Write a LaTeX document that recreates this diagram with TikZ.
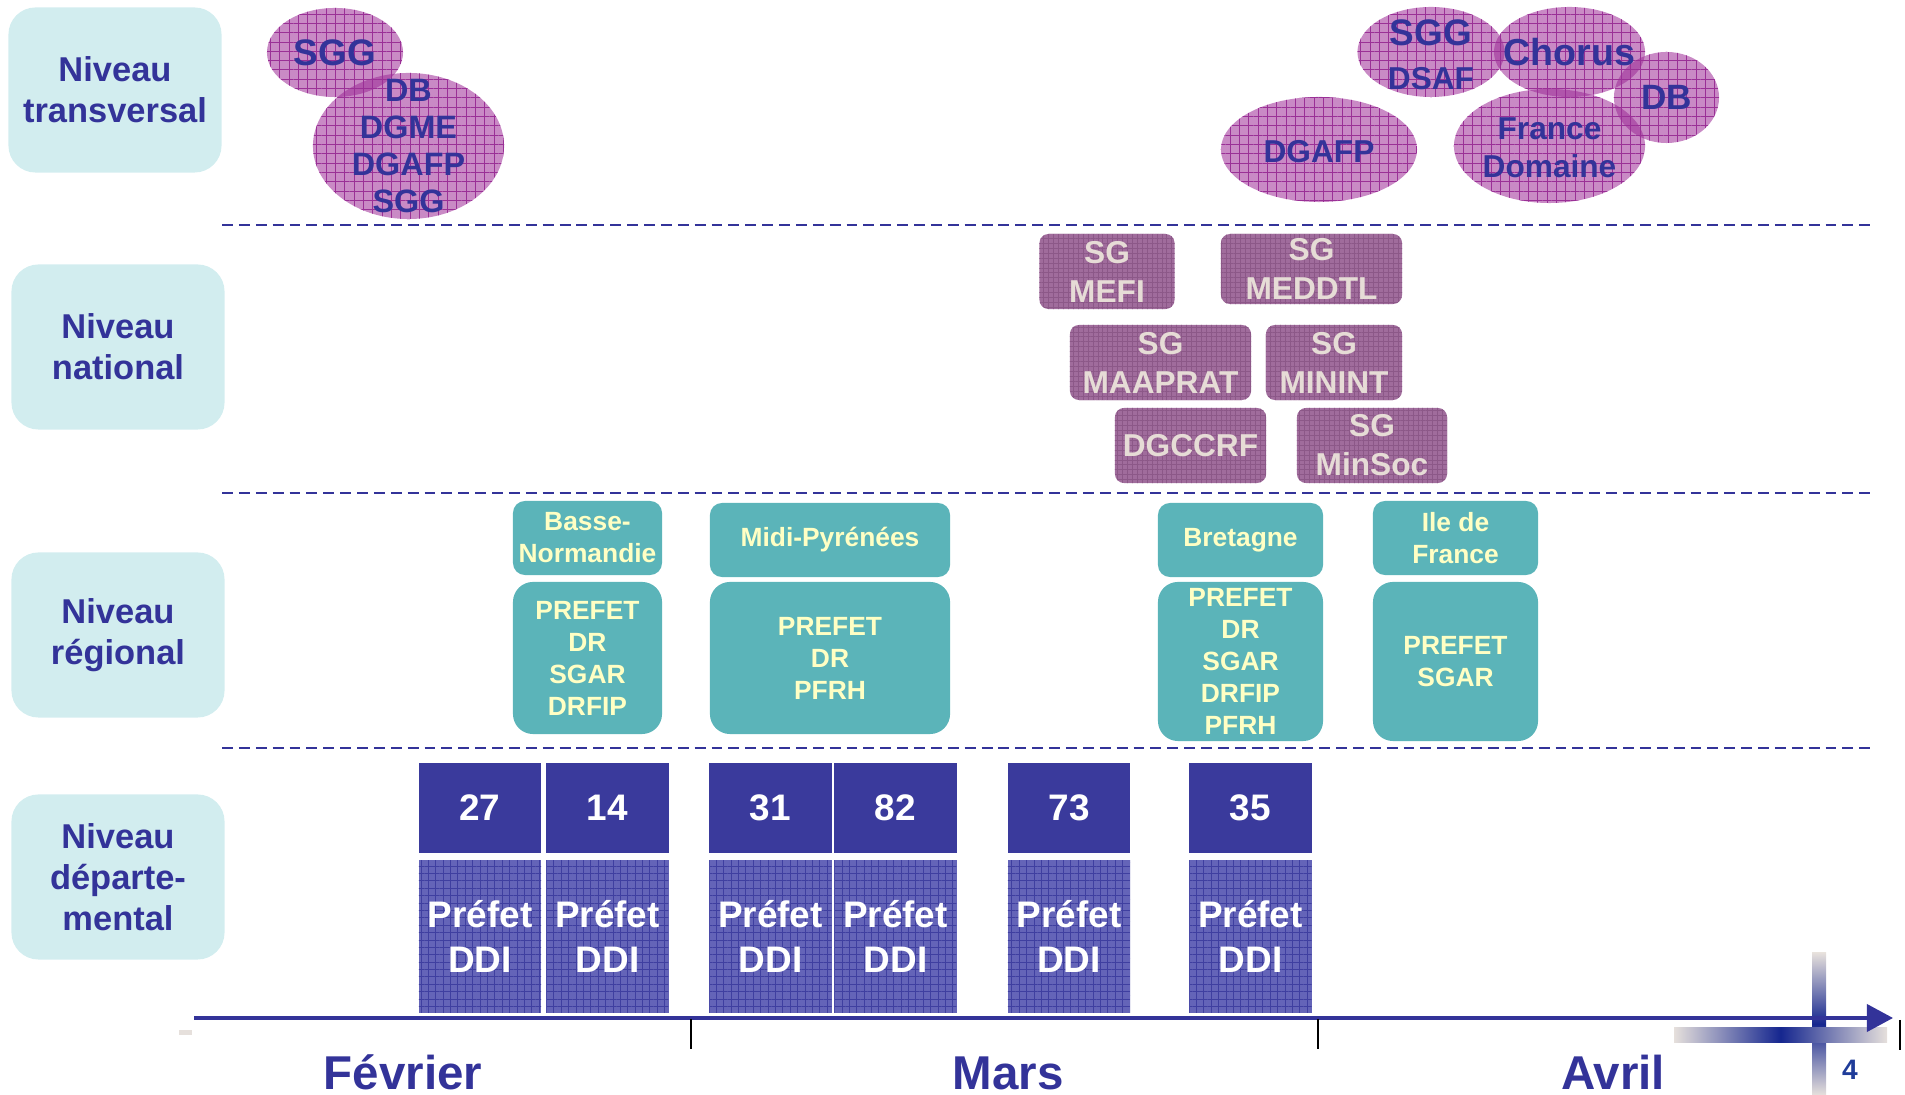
\documentclass[tikz,border=0pt]{standalone}
\usepackage{fontspec}
\setmainfont{Liberation Sans}
\usepackage{tikz}
\usetikzlibrary{shapes.geometric,arrows.meta,patterns.meta}
\definecolor{navy}{HTML}{333399}
\definecolor{paleteal}{HTML}{D2EDEF}
\definecolor{orchid}{HTML}{9C2A96}
\definecolor{orchidline}{HTML}{9A3096}
\definecolor{mauve}{HTML}{A06C9C}
\definecolor{mauveline}{HTML}{8C5888}
\definecolor{mauvetext}{HTML}{E6DCD6}
\definecolor{regteal}{HTML}{5BB4B9}
\definecolor{cream}{HTML}{FFFFC4}
\definecolor{deptblue}{HTML}{3A3A9C}
\definecolor{ddiblue}{HTML}{6464B8}
\definecolor{ddiline}{HTML}{3F3FA0}
\definecolor{bargrey}{HTML}{E6E0DC}
\definecolor{bardark}{HTML}{15268F}
\definecolor{pagenum}{HTML}{1F3C99}
\tikzset{
  niveau/.style={fill=paleteal, rounded corners=0.27cm, minimum width=2.13cm, minimum height=1.65cm, inner sep=0pt, align=center, text=navy, font=\bfseries\fontsize{9.8}{11.7}\selectfont},
  sep/.style={draw=navy, line width=0.55pt, dash pattern=on 3.1pt off 1.7pt},
  bulle/.style={ellipse, inner sep=0pt, preaction={fill=orchid, fill opacity=0.55}, pattern={Hatch[distance=2.65pt, line width=0.22pt]}, pattern color=orchidline},
  bulletxt/.style={text=navy, align=center, inner sep=0pt},
  ministere/.style={preaction={fill=mauve}, pattern={Hatch[distance=1.4pt, line width=0.2pt]}, pattern color=mauveline, rounded corners=0.09cm, inner sep=0pt, align=center, text=mauvetext, font=\bfseries\fontsize{9}{11.1}\selectfont},
  regtete/.style={fill=regteal, rounded corners=0.12cm, minimum height=0.74cm, inner sep=0pt, align=center, text=cream, font=\bfseries\fontsize{7.5}{9.1}\selectfont},
  regcorps/.style={regtete, rounded corners=0.2cm},
  numdep/.style={fill=deptblue, minimum width=1.22cm, minimum height=0.9cm, inner sep=0pt, text=white, font=\bfseries\fontsize{10.5}{13}\selectfont},
  prefet/.style={preaction={fill=ddiblue}, pattern={Hatch[distance=2.1pt, line width=0.22pt]}, pattern color=ddiline, minimum width=1.22cm, minimum height=1.52cm, inner sep=0pt, align=center, text=white, font=\bfseries\fontsize{10.5}{13}\selectfont},
  axe/.style={draw=navy, line width=1pt, -{Triangle[length=7.4pt,width=7.7pt]}},
  repere/.style={draw=black, line width=0.4pt},
  mois/.style={anchor=base, inner sep=0pt, text=navy, font=\bfseries\fontsize{13.5}{16}\selectfont}
}
\begin{document}
\begin{tikzpicture}[x=0.01cm, y=-0.01cm]
  \useasboundingbox (0,0) rectangle (1905,1095);

  \node[niveau] (nivTrans) at (115,90) {Niveau\\transversal};
  \node[niveau] (nivNat) at (118,347) {Niveau\\national};
  \node[niveau] (nivReg) at (118,635) {Niveau\\régional};
  \node[niveau] (nivDep) at (118,877) {Niveau\\départe-\\mental};

  \draw[sep] (222,225) -- (1871,225);
  \draw[sep] (222,493) -- (1871,493);
  \draw[sep] (222,748) -- (1871,748);

  \node[bulle, minimum width=1.36cm, minimum height=0.89cm] (sggL) at (335,52.5) {};
  \node[bulle, minimum width=1.91cm, minimum height=1.46cm] (dbL) at (408.5,146) {};
  \node[bulle, minimum width=1.96cm, minimum height=1.05cm] (dgafpR) at (1319,149.5) {};
  \node[bulle, minimum width=1.47cm, minimum height=0.9cm] (sggR) at (1431,52) {};
  \node[bulle, minimum width=1.51cm, minimum height=0.9cm] (chorus) at (1569.5,52) {};
  \node[bulle, minimum width=1.05cm, minimum height=0.91cm] (dbR) at (1666.5,97.5) {};
  \node[bulle, minimum width=1.91cm, minimum height=1.14cm] (france) at (1549.5,146) {};

  \node[bulletxt, font=\bfseries\fontsize{10.5}{12}\selectfont] (sggLtxt) at (sggL) {SGG};
  \node[bulletxt, font=\bfseries\fontsize{9.2}{10.5}\selectfont] (dbLtxt) at (dbL) {DB\\DGME\\DGAFP\\SGG};
  \node[bulletxt, font=\bfseries\fontsize{9}{11}\selectfont] (dgafpRtxt) at (1319,152) {DGAFP};
  \node[bulletxt, font=\bfseries\fontsize{9}{12.5}\selectfont] (sggRtxt) at (1431,55) {{\fontsize{10.5}{12.5}\selectfont SGG}\\DSAF};
  \node[bulletxt, font=\bfseries\fontsize{10.7}{12}\selectfont] (chorustxt) at (chorus) {Chorus};
  \node[bulletxt, font=\bfseries\fontsize{10}{12}\selectfont] (dbRtxt) at (dbR) {DB};
  \node[bulletxt, font=\bfseries\fontsize{9}{10.8}\selectfont] (francetxt) at (1549.5,148) {France\\Domaine};

  \node[ministere, minimum width=1.35cm, minimum height=0.75cm] (mefi) at (1107,271.5) {SG\\MEFI};
  \node[ministere, minimum width=1.81cm, minimum height=0.70cm] (meddtl) at (1311.5,269) {SG\\MEDDTL};
  \node[ministere, minimum width=1.81cm, minimum height=0.75cm] (maaprat) at (1160.5,362.5) {SG\\MAAPRAT};
  \node[ministere, minimum width=1.36cm, minimum height=0.75cm] (minint) at (1334,362.5) {SG\\MININT};
  \node[ministere, minimum width=1.51cm, minimum height=0.75cm] (dgccrf) at (1190.5,445.5) {DGCCRF};
  \node[ministere, minimum width=1.50cm, minimum height=0.75cm] (minsoc) at (1372,445.5) {SG\\MinSoc};

  \node[regtete, minimum width=1.49cm] (bnTete) at (587.5,538) {Basse-\\Normandie};
  \node[regcorps, minimum width=1.49cm, minimum height=1.52cm] (bnCorps) at (587.5,658) {PREFET\\DR\\SGAR\\DRFIP};
  \node[regtete, minimum width=2.40cm] (mpTete) at (830,540) {Midi-Pyrénées};
  \node[regcorps, minimum width=2.40cm, minimum height=1.52cm] (mpCorps) at (830,658) {PREFET\\DR\\PFRH};
  \node[regtete, minimum width=1.65cm] (brTete) at (1240.5,540) {Bretagne};
  \node[regcorps, minimum width=1.65cm, minimum height=1.59cm] (brCorps) at (1240.5,661.5) {PREFET\\DR\\SGAR\\DRFIP\\PFRH};
  \node[regtete, minimum width=1.65cm] (idfTete) at (1455.5,538) {Ile de\\France};
  \node[regcorps, minimum width=1.65cm, minimum height=1.59cm] (idfCorps) at (1455.5,661.5) {PREFET\\SGAR};

  \node[numdep] (d27) at (480,808) {27};
  \node[numdep] (d14) at (607.5,808) {14};
  \node[numdep] (d31) at (770.5,808) {31};
  \node[numdep] (d82) at (895.5,808) {82};
  \node[numdep] (d73) at (1069,808) {73};
  \node[numdep] (d35) at (1250.5,808) {35};
  \node[prefet] (p27) at (480,936.5) {Préfet\\DDI};
  \node[prefet] (p14) at (607.5,936.5) {Préfet\\DDI};
  \node[prefet] (p31) at (770.5,936.5) {Préfet\\DDI};
  \node[prefet] (p82) at (895.5,936.5) {Préfet\\DDI};
  \node[prefet] (p73) at (1069,936.5) {Préfet\\DDI};
  \node[prefet] (p35) at (1250.5,936.5) {Préfet\\DDI};

  \fill[bargrey] (179,1030) rectangle (192,1035);
  \shade[top color=bargrey, bottom color=bargrey, middle color=bardark] (1812,953) rectangle (1826,1095);
  \shade[left color=bargrey, right color=bargrey, middle color=bardark] (1674,1028) rectangle (1887,1043);

  \coordinate (debut) at (194,1018);
  \coordinate (fin) at (1893,1018);
  \draw[axe] (debut) -- (fin);
  \draw[repere] (691,1019) -- (691,1049);
  \draw[repere] (1318,1019) -- (1318,1049);
  \draw[repere] (1900,1020) -- (1900,1050);

  \node[mois] (fevrier) at (403,1090) {Février};
  \node[mois] (mars) at (1008,1090) {Mars};
  \node[mois] (avril) at (1613,1090) {Avril};
  \node[text=pagenum, font=\bfseries\fontsize{8}{10}\selectfont, inner sep=0pt] (page) at (1850,1070) {4};
\end{tikzpicture}
\end{document}
